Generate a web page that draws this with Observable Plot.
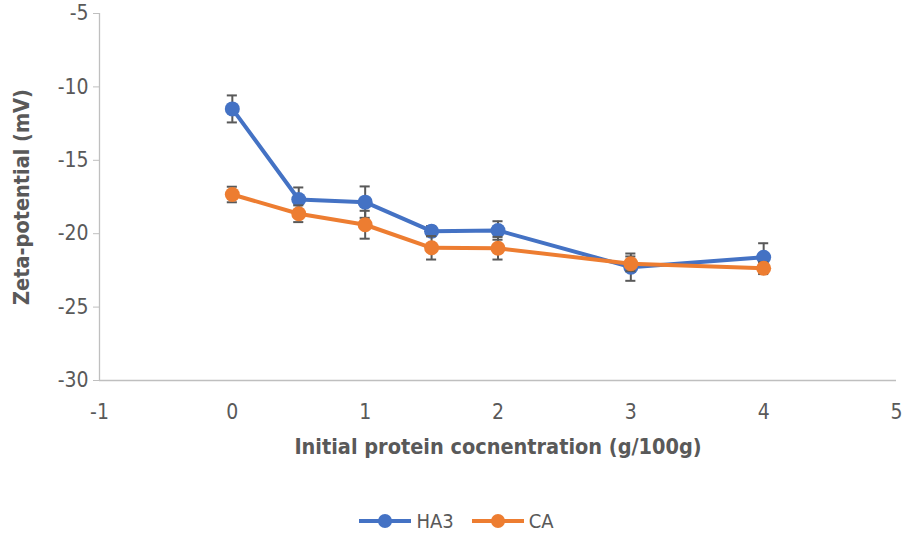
<!DOCTYPE html>
<html>
<head>
<meta charset="utf-8">
<script src="https://cdn.jsdelivr.net/npm/d3@7"></script>
<script src="https://cdn.jsdelivr.net/npm/@observablehq/plot@0.6"></script>
<style>
  body { margin: 0; background: #fff; font-family: "DejaVu Sans Condensed", "Open Sans", sans-serif; }
  #legend { display: flex; justify-content: center; align-items: center; gap: 18px; height: 30px; margin-top: 19px; padding-left: 8px; font-size: 20px; color: #595959; }
  .item { display: flex; align-items: center; gap: 5px; }
</style>
</head>
<body>
<div id="chart"></div>
<div id="legend"></div>
<script>
const concentrations = [0, 0.5, 1, 1.5, 2, 3, 4];
const ha3Values = [-11.5, -17.67, -17.85, -19.83, -19.78, -22.28, -21.6];
const ha3Errors = [0.92, 0.82, 1.07, 0.35, 0.63, 0.93, 0.95];
const caValues = [-17.33, -18.64, -19.39, -20.96, -20.99, -22.05, -22.35];
const caErrors = [0.53, 0.57, 0.95, 0.8, 0.77, 0.5, 0.4];
const seriesNames = ["HA3", "CA"];
const seriesColors = ["#4472C4", "#ED7D31"];
const xTicks = [-1, 0, 1, 2, 3, 4, 5];
const yTicks = [-30, -25, -20, -15, -10, -5];

const rows = [];
[[ha3Values, ha3Errors], [caValues, caErrors]].forEach(([vals, errs], si) => {
  concentrations.forEach((c, i) => rows.push({series: seriesNames[si], x: c, y: vals[i], e: errs[i]}));
});

const fmt = d => String(d);
const capHalf = 0.038;
const marks = [
  Plot.ruleX([-1], {y1: -30, y2: -5, stroke: "#bfbfbf", strokeWidth: 1.3}),
  Plot.ruleY([-30], {x1: -1, x2: 5, stroke: "#bfbfbf", strokeWidth: 1.3}),
  Plot.axisY({ticks: yTicks, tickFormat: fmt, tickSize: 6, tickPadding: 5, stroke: "#bfbfbf", fill: "#595959", fontSize: 21, label: null}),
  Plot.axisX({ticks: xTicks, tickFormat: fmt, tickSize: 0, tickPadding: 24, fill: "#595959", fontSize: 21, label: null}),
  Plot.text(["Zeta-potential (mV)"], {frameAnchor: "left", textAnchor: "middle", dx: -77, rotate: -90, fontSize: 21.5, fontWeight: "bold", fill: "#595959"}),
  Plot.text(["Initial protein cocnentration (g/100g)"], {frameAnchor: "bottom", dy: 73, fontSize: 21.5, fontWeight: "bold", fill: "#595959"})
];
seriesNames.forEach((name, si) => {
  const d = rows.filter(r => r.series === name);
  marks.push(
    Plot.ruleX(d, {x: "x", y1: r => r.y - r.e, y2: r => r.y + r.e, stroke: "#595959", strokeWidth: 2}),
    Plot.ruleY(d, {y: r => r.y - r.e, x1: r => r.x - capHalf, x2: r => r.x + capHalf, stroke: "#595959", strokeWidth: 2}),
    Plot.ruleY(d, {y: r => r.y + r.e, x1: r => r.x - capHalf, x2: r => r.x + capHalf, stroke: "#595959", strokeWidth: 2}),
    Plot.line(d, {x: "x", y: "y", stroke: seriesColors[si], strokeWidth: 4}),
    Plot.dot(d, {x: "x", y: "y", r: 7.5, fill: seriesColors[si], stroke: "none"})
  );
});

const chart = Plot.plot({
  width: 905,
  height: 487,
  marginTop: 13,
  marginBottom: 107,
  marginLeft: 99,
  marginRight: 9,
  x: {domain: [-1, 5]},
  y: {domain: [-30, -5]},
  style: {fontFamily: "'DejaVu Sans Condensed', 'Open Sans', sans-serif", background: "#fff", overflow: "visible"},
  marks
});
document.getElementById("chart").appendChild(chart);

const legend = document.getElementById("legend");
seriesNames.forEach((name, si) => {
  const item = document.createElement("div");
  item.className = "item";
  item.innerHTML = `<svg width="52" height="16"><line x1="0" y1="8" x2="52" y2="8" stroke="${seriesColors[si]}" stroke-width="4"/><circle cx="26" cy="8" r="7" fill="${seriesColors[si]}"/></svg><span>${name}</span>`;
  legend.appendChild(item);
});
</script>
</body>
</html>
